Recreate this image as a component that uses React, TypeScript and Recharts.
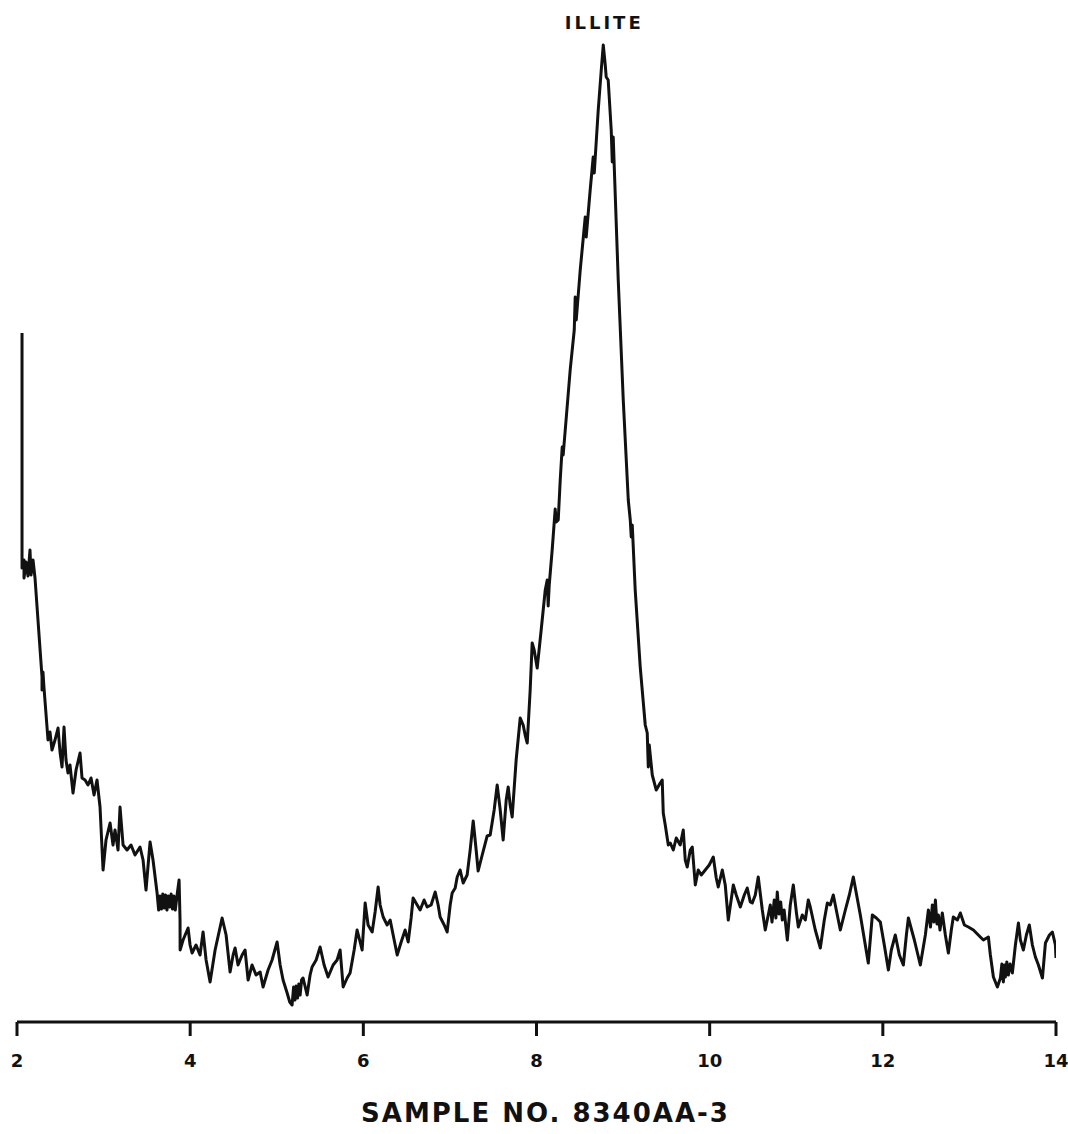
import React from 'react';
import { LineChart, Line, XAxis, YAxis, ReferenceDot } from 'recharts';

// 2-theta (degrees) readings along the trace
const twoTheta: number[] = [
  2.058, 2.058, 2.081, 2.081, 2.104, 2.127, 2.150, 2.162, 2.185, 2.208,
  2.289, 2.289, 2.300, 2.312, 2.358, 2.381, 2.404, 2.439, 2.474, 2.497,
  2.520, 2.543, 2.566, 2.589, 2.612, 2.647, 2.682, 2.728, 2.751, 2.786,
  2.820, 2.855, 2.890, 2.924, 2.959, 2.994, 3.028, 3.075, 3.109, 3.132,
  3.167, 3.190, 3.225, 3.271, 3.317, 3.363, 3.421, 3.456, 3.490, 3.537,
  3.571, 3.618, 3.636, 3.652, 3.668, 3.684, 3.700, 3.716, 3.732, 3.748,
  3.764, 3.780, 3.796, 3.812, 3.828, 3.849, 3.872, 3.883, 3.884, 3.918,
  3.976, 3.999, 4.022, 4.068, 4.114, 4.149, 4.184, 4.230, 4.288, 4.369,
  4.415, 4.461, 4.496, 4.519, 4.553, 4.600, 4.634, 4.669, 4.715, 4.761,
  4.808, 4.842, 4.900, 4.946, 5.004, 5.039, 5.073, 5.120, 5.150, 5.177,
  5.195, 5.210, 5.224, 5.240, 5.255, 5.270, 5.287, 5.304, 5.351, 5.385,
  5.408, 5.455, 5.501, 5.547, 5.593, 5.651, 5.697, 5.732, 5.767, 5.813,
  5.847, 5.894, 5.928, 5.963, 5.986, 6.021, 6.055, 6.102, 6.136, 6.171,
  6.194, 6.229, 6.275, 6.310, 6.356, 6.391, 6.437, 6.483, 6.518, 6.552,
  6.575, 6.622, 6.656, 6.702, 6.737, 6.783, 6.830, 6.864, 6.887, 6.934,
  6.968, 7.003, 7.026, 7.061, 7.084, 7.118, 7.153, 7.199, 7.234, 7.269,
  7.303, 7.326, 7.373, 7.430, 7.465, 7.511, 7.546, 7.581, 7.615, 7.650,
  7.673, 7.696, 7.719, 7.765, 7.812, 7.846, 7.869, 7.893, 7.927, 7.950,
  7.973, 8.008, 8.054, 8.101, 8.124, 8.135, 8.147, 8.181, 8.216, 8.228,
  8.251, 8.274, 8.297, 8.308, 8.332, 8.389, 8.436, 8.447, 8.459, 8.505,
  8.563, 8.574, 8.620, 8.655, 8.667, 8.713, 8.748, 8.771, 8.794, 8.805,
  8.828, 8.863, 8.875, 8.886, 8.944, 9.002, 9.060, 9.083, 9.094, 9.106,
  9.140, 9.198, 9.256, 9.279, 9.291, 9.302, 9.337, 9.383, 9.429, 9.452,
  9.464, 9.487, 9.522, 9.545, 9.580, 9.614, 9.660, 9.695, 9.718, 9.741,
  9.776, 9.799, 9.834, 9.868, 9.903, 9.949, 9.995, 10.042, 10.076, 10.099,
  10.146, 10.180, 10.215, 10.273, 10.307, 10.354, 10.400, 10.434, 10.469, 10.492,
  10.527, 10.561, 10.608, 10.642, 10.700, 10.720, 10.746, 10.765, 10.781, 10.800,
  10.820, 10.839, 10.860, 10.897, 10.931, 10.966, 11.001, 11.024, 11.070, 11.105,
  11.139, 11.162, 11.220, 11.278, 11.324, 11.359, 11.393, 11.428, 11.474, 11.509,
  11.567, 11.613, 11.659, 11.740, 11.832, 11.879, 11.925, 11.971, 12.017, 12.064,
  12.098, 12.144, 12.191, 12.237, 12.272, 12.295, 12.364, 12.433, 12.491, 12.526,
  12.550, 12.572, 12.590, 12.607, 12.625, 12.641, 12.660, 12.687, 12.722, 12.757,
  12.791, 12.814, 12.861, 12.895, 12.942, 12.988, 13.046, 13.103, 13.161, 13.219,
  13.242, 13.277, 13.323, 13.358, 13.375, 13.392, 13.405, 13.415, 13.432, 13.450,
  13.470, 13.496, 13.531, 13.566, 13.589, 13.623, 13.658, 13.692, 13.727, 13.762,
  13.797, 13.843, 13.878, 13.924, 13.958, 13.993, 14.0,
];

// diffracted intensity (relative counts) at each reading
const intensity: number[] = [
  689, 454, 462, 444, 460, 446, 472, 447, 462, 444,
  345, 332, 350, 334, 282, 290, 272, 282, 294, 270,
  255, 295, 262, 249, 257, 229, 252, 269, 244, 242,
  237, 244, 227, 242, 215, 152, 182, 199, 177, 192,
  172, 215, 177, 172, 177, 167, 175, 162, 132, 180,
  162, 129, 112, 126, 113, 128, 114, 127, 112, 126,
  115, 128, 113, 126, 112, 127, 142, 102, 72, 82,
  94, 77, 69, 77, 67, 90, 62, 40, 72, 104,
  87, 50, 67, 74, 57, 67, 72, 42, 57, 47,
  50, 35, 52, 62, 80, 57, 42, 29, 20, 17,
  35, 22, 36, 24, 38, 27, 42, 44, 27, 47,
  55, 62, 75, 57, 45, 57, 62, 72, 35, 44,
  49, 72, 92, 80, 72, 119, 97, 90, 110, 135,
  117, 105, 97, 102, 82, 67, 80, 92, 80, 104,
  124, 117, 112, 122, 115, 117, 130, 117, 105, 97,
  90, 117, 129, 134, 145, 152, 139, 147, 172, 201,
  172, 151, 167, 186, 187, 212, 237, 212, 182, 222,
  235, 217, 205, 262, 304, 297, 287, 279, 332, 379,
  372, 354, 392, 432, 442, 416, 437, 472, 513, 500,
  502, 542, 575, 567, 592, 652, 692, 725, 702, 752,
  805, 785, 832, 865, 849, 912, 952, 977, 957, 945,
  942, 892, 860, 885, 742, 622, 522, 502, 485, 497,
  432, 355, 297, 289, 255, 277, 247, 232, 239, 242,
  209, 197, 177, 179, 172, 184, 177, 192, 162, 155,
  172, 175, 137, 152, 147, 152, 157, 165, 144, 135,
  152, 137, 102, 137, 127, 115, 127, 134, 120, 119,
  127, 145, 112, 92, 117, 100, 122, 104, 130, 108,
  120, 102, 112, 82, 117, 137, 110, 95, 107, 102,
  122, 115, 92, 74, 102, 119, 117, 127, 107, 92,
  112, 127, 145, 107, 59, 107, 104, 100, 77, 52,
  72, 87, 67, 57, 87, 104, 82, 57, 87, 112,
  95, 117, 100, 122, 98, 107, 92, 109, 87, 69,
  92, 105, 102, 109, 97, 95, 92, 87, 82, 85,
  67, 45, 35, 44, 58, 40, 57, 45, 60, 47,
  58, 49, 77, 99, 82, 72, 87, 97, 77, 65,
  57, 44, 79, 87, 90, 77, 64,
];

const xTicks: number[] = [2, 4, 6, 8, 10, 12, 14];
const peakLabel = 'ILLITE';
const peakPosition = 8.771;
const peakIntensity = 977;
const sampleTitle = 'SAMPLE NO. 8340AA-3';

const data = twoTheta.map((t, i) => ({ t, v: intensity[i] }));

const FONT = '"DejaVu Sans", "Liberation Sans", sans-serif';

const TitleLabel = (props: any) => {
  const vb = props.viewBox || {};
  const cx = vb.x + vb.width / 2 + 9;
  const y = vb.y + vb.height - 2;
  return (
    <text x={cx} y={y} textAnchor="middle" fontFamily={FONT} fontSize={26} fontWeight={700}
      letterSpacing={2} fill="#111">
      {sampleTitle}
    </text>
  );
};

const PeakLabel = (props: any) => {
  const vb = props.viewBox || {};
  const cx = vb.x + (vb.width || 0) / 2;
  const y = vb.y - 16;
  return (
    <text x={cx + 1} y={y} textAnchor="middle" fontFamily={FONT} fontSize={18} fontWeight={700}
      letterSpacing={3} fill="#111">
      {peakLabel}
    </text>
  );
};

export default function App() {
  return (
    <div style={{ position: 'absolute', left: 0, top: 0, width: 1068, height: 1134, background: '#fff' }}>
      <LineChart width={1068} height={1134} data={data}
        margin={{ top: 42, right: 12, left: 17, bottom: 10 }}>
        <XAxis dataKey="t" type="number" domain={[2, 14]} ticks={xTicks} interval={0}
          allowDataOverflow height={102}
          axisLine={{ stroke: '#111', strokeWidth: 3 }}
          tickLine={{ stroke: '#111', strokeWidth: 3 }}
          tickSize={14} tickMargin={18}
          tick={{ fill: '#111', fontSize: 18, fontWeight: 700, fontFamily: FONT }}
          label={{ content: TitleLabel }} />
        <YAxis hide domain={[0, 980]} allowDataOverflow />
        <Line type="linear" dataKey="v" stroke="#111" strokeWidth={3} dot={false}
          isAnimationActive={false} strokeLinejoin="round" />
        <ReferenceDot x={peakPosition} y={peakIntensity} r={0} fill="none" stroke="none"
          ifOverflow="visible" label={{ content: PeakLabel }} />
      </LineChart>
    </div>
  );
}
